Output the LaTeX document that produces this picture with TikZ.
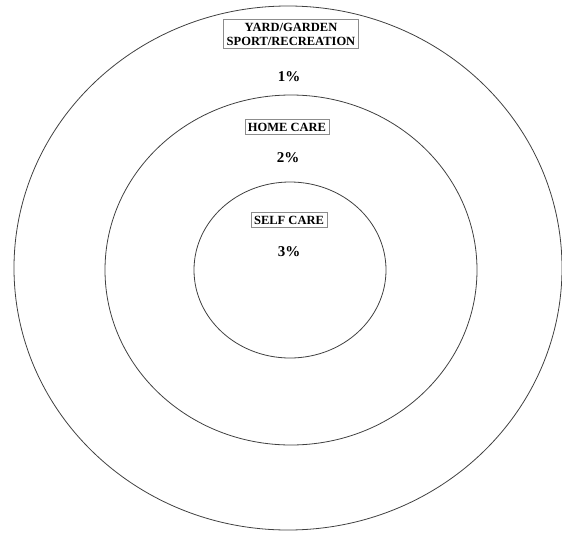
\documentclass[tikz,border=0pt]{standalone}
\usepackage{fontspec}
\setmainfont{Liberation Serif}
\begin{document}
\begin{tikzpicture}[x=1pt,y=-1pt,
  ring/.style={draw=black!75,line width=0.8pt},
  tag/.style={draw=black!45,line width=0.8pt,fill=white,inner xsep=3pt,inner ysep=3.5pt,
    font=\bfseries\fontsize{12.5}{14}\selectfont,align=center},
  pct/.style={font=\bfseries\fontsize{15}{16}\selectfont}]
\useasboundingbox (0,0) rectangle (562,533);
\draw[ring] (288,268) ellipse [x radius=274, y radius=262];
\draw[ring] (291,270) ellipse [x radius=186, y radius=175];
\draw[ring] (290,270) ellipse [x radius=96, y radius=88];
\node[tag] (yard) at (291,34) {YARD/GARDEN\\SPORT/RECREATION};
\node[pct] (p1) at (289,77) {1\%};
\node[tag] (home) at (287,127) {HOME CARE};
\node[pct] (p2) at (288,158) {2\%};
\node[tag] (self) at (289,220) {SELF CARE};
\node[pct] (p3) at (289,252) {3\%};
\end{tikzpicture}
\end{document}
